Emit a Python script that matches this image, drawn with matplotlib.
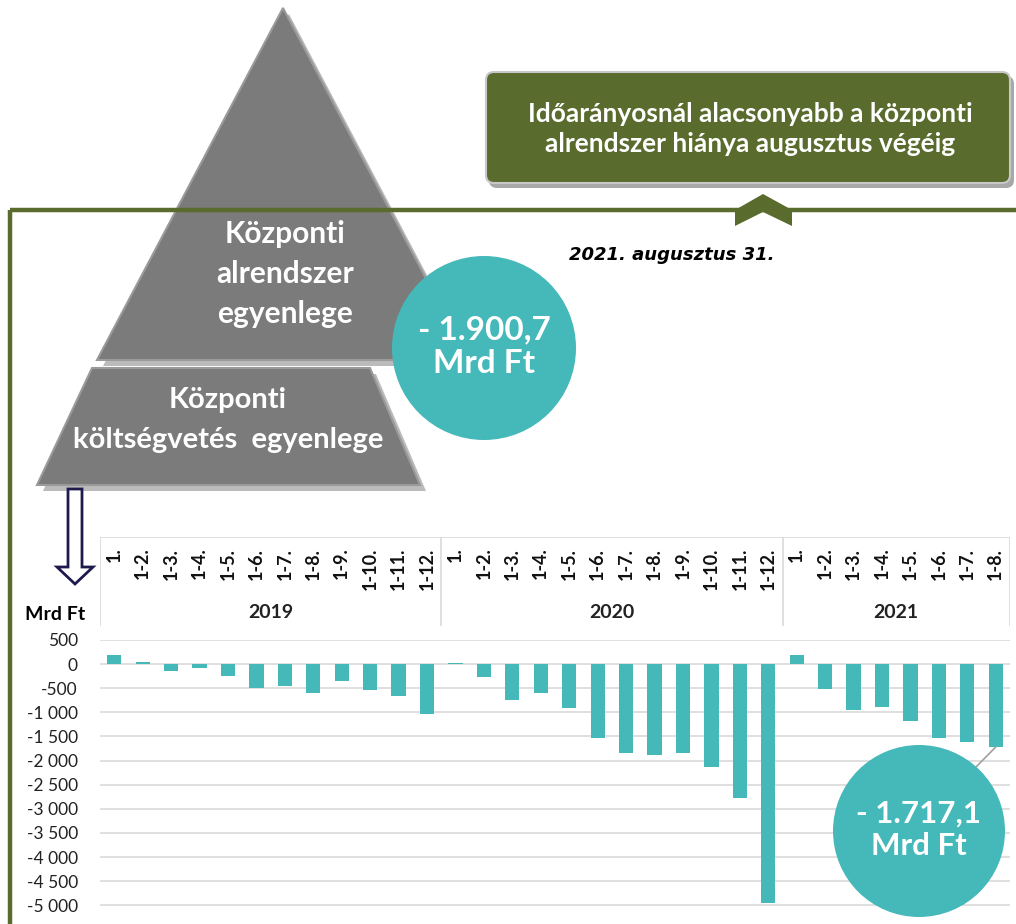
import matplotlib
matplotlib.use("Agg")
import matplotlib.pyplot as plt
from matplotlib.patches import Polygon, Circle, FancyBboxPatch
from matplotlib.ticker import FuncFormatter

plt.rcParams['font.family'] = ['Lato', 'DejaVu Sans']

# --- adatok (Mrd Ft, kumulált egyenleg) ---
years = ["2019", "2020", "2021"]
months_full = ["1.", "1-2.", "1-3.", "1-4.", "1-5.", "1-6.",
               "1-7.", "1-8.", "1-9.", "1-10.", "1-11.", "1-12."]
values_2019 = [189, 35, -140, -77, -252, -490, -455, -601, -343, -545, -657, -1042]
values_2020 = [25, -271, -743, -597, -917, -1528, -1847, -1882, -1847, -2139, -2771, -4950]
values_2021 = [180, -507, -944, -889, -1174, -1528, -1611, -1717.1]

title_box = "Időarányosnál alacsonyabb a központi\nalrendszer hiánya augusztus végéig"
date_text = "2021. augusztus 31."
bubble_top = "- 1.900,7\nMrd Ft"
bubble_chart = "- 1.717,1\nMrd Ft"

TEAL = '#45B8BA'
GREEN = '#596B2D'
GRAY = '#7B7B7B'

W, H = 1016, 924
fig = plt.figure(figsize=(W / 100, H / 100), dpi=100)


def px_rect(x0, y0, x1, y1):
    # pixel box (top-left origin) -> figure fraction
    return [x0 / W, 1 - y1 / H, (x1 - x0) / W, (y1 - y0) / H]


groups = [(years[0], values_2019), (years[1], values_2020), (years[2], values_2021)]
labels, values = [], []
for yr, vals in groups:
    labels += months_full[:len(vals)]
    values += vals
x = list(range(len(values)))

# --- oszlopdiagram ---
ax = fig.add_axes(px_rect(100, 640, 1010, 915))
ax.bar(x, values, width=0.5, color=TEAL, zorder=3)
ax.set_xlim(-0.5, len(values) - 0.5)
ax.set_ylim(-5200, 500)
ax.set_yticks(range(-5000, 501, 500))
ax.yaxis.set_major_formatter(FuncFormatter(lambda v, p: f"{v:,.0f}".replace(',', ' ')))
ax.tick_params(axis='y', length=0, pad=16, labelsize=12.5, labelcolor='#222222')
ax.set_xticks([])
ax.grid(axis='y', color='#D9D9D9', linewidth=1.2, zorder=0)
for s in ax.spines.values():
    s.set_visible(False)

# --- kategória fejléc ---
hx = fig.add_axes(px_rect(100, 537, 1010, 626), sharex=ax)
hx.set_ylim(0, 1)
hx.axis('off')
hx.axhline(1, color='#D9D9D9', lw=1.2)
start = 0
bounds = [-0.5]
for yr, vals in groups:
    end = start + len(vals)
    bounds.append(end - 0.5)
    hx.text((start + end - 1) / 2, 0.15, yr, ha='center', va='center',
            fontsize=14, fontweight='bold', color='#222222')
    start = end
for b in bounds:
    hx.axvline(b, color='#D9D9D9', lw=1.2)
for i, lab in enumerate(labels):
    hx.text(i, 0.88, lab, rotation=90, ha='center', va='top',
            fontsize=13, fontweight='bold', color='#111111')

# --- felső rajzréteg (pixel koordináták) ---
ov = fig.add_axes([0, 0, 1, 1], zorder=5)
ov.set_xlim(0, W)
ov.set_ylim(H, 0)
ov.axis('off')
ov.patch.set_alpha(0)

# piramis
ov.add_patch(Polygon([(289, 14), (103, 366), (475, 366)], closed=True,
                     facecolor='#BBBBBB', edgecolor='none', zorder=1))
ov.add_patch(Polygon([(283, 8), (97, 360), (469, 360)], closed=True,
                     facecolor=GRAY, edgecolor='#9A9A9A', lw=1.5, zorder=2))
ov.add_patch(Polygon([(96, 374), (376, 374), (426, 491), (43, 491)], closed=True,
                     facecolor='#BBBBBB', edgecolor='none', zorder=1))
ov.add_patch(Polygon([(92, 368), (370, 368), (420, 485), (37, 485)], closed=True,
                     facecolor=GRAY, edgecolor='#9A9A9A', lw=1.5, zorder=2))
for yy, t in zip([234, 274, 314], ["Központi", "alrendszer", "egyenlege"]):
    ov.text(285, yy, t, ha='center', va='center', color='white',
            fontsize=21.5, fontweight='bold', zorder=4)
ov.text(228, 400, "Központi", ha='center', va='center', color='white',
        fontsize=21, fontweight='bold', zorder=4)
ov.text(228, 440, "költségvetés  egyenlege", ha='center', va='center',
        color='white', fontsize=21, fontweight='bold', zorder=4)

# zöld keret és nyíl
ov.plot([10, W], [210, 210], color=GREEN, lw=3.2, zorder=3, solid_capstyle='butt')
ov.plot([10, 10], [210, H], color=GREEN, lw=3.2, zorder=3, solid_capstyle='butt')
ov.add_patch(Polygon([(735, 210), (763, 194), (792, 210), (792, 226),
                      (763, 212), (735, 226)], closed=True,
                     facecolor=GREEN, edgecolor='none', zorder=3))

# zöld szövegdoboz
ov.add_patch(FancyBboxPatch((489, 76), 525, 112, boxstyle="round,pad=0,rounding_size=8",
                            facecolor='#A8A8A8', edgecolor='none', zorder=2))
ov.add_patch(FancyBboxPatch((486, 72), 524, 111, boxstyle="round,pad=0,rounding_size=8",
                            facecolor=GREEN, edgecolor='#C8C8C8', lw=1.5, zorder=3))
ov.text(750, 129, title_box, ha='center', va='center', color='white',
        fontsize=19, fontweight='bold', linespacing=1.3, zorder=4)

ov.text(672, 255, date_text, ha='center', va='center', color='black',
        fontsize=13, fontweight='bold', fontstyle='italic',
        family=['DejaVu Sans'], zorder=4)

# buborékok
ov.add_patch(Circle((484, 348), 92, facecolor=TEAL, edgecolor='none', zorder=5))
ov.text(484, 347, bubble_top, ha='center', va='center', color='white',
        fontsize=24, fontweight='bold', linespacing=1.2, zorder=6)

# a 2021. 1-8. oszlop végéhez húzott vezetővonal
tr = ax.transData + ov.transData.inverted()
bx, by = tr.transform((x[-1], values[-1]))
ov.plot([bx, 975], [by, 768], color='#A0A0A0', lw=1.2, zorder=4)
ov.add_patch(Circle((919, 831), 86, facecolor=TEAL, edgecolor='none', zorder=5))
ov.text(919, 830, bubble_chart, ha='center', va='center', color='white',
        fontsize=22.5, fontweight='bold', linespacing=1.2, zorder=6)

# lefelé mutató üreges nyíl
ov.add_patch(Polygon([(68, 489), (82, 489), (82, 567), (93, 567), (75, 584),
                      (57, 567), (68, 567)], closed=True,
                     facecolor='white', edgecolor='#1F1A4D', lw=2, zorder=4))
ov.text(55, 614, "Mrd Ft", ha='center', va='center', color='black',
        fontsize=14, fontweight='bold', zorder=4)

fig.savefig("out.png", dpi=100)
